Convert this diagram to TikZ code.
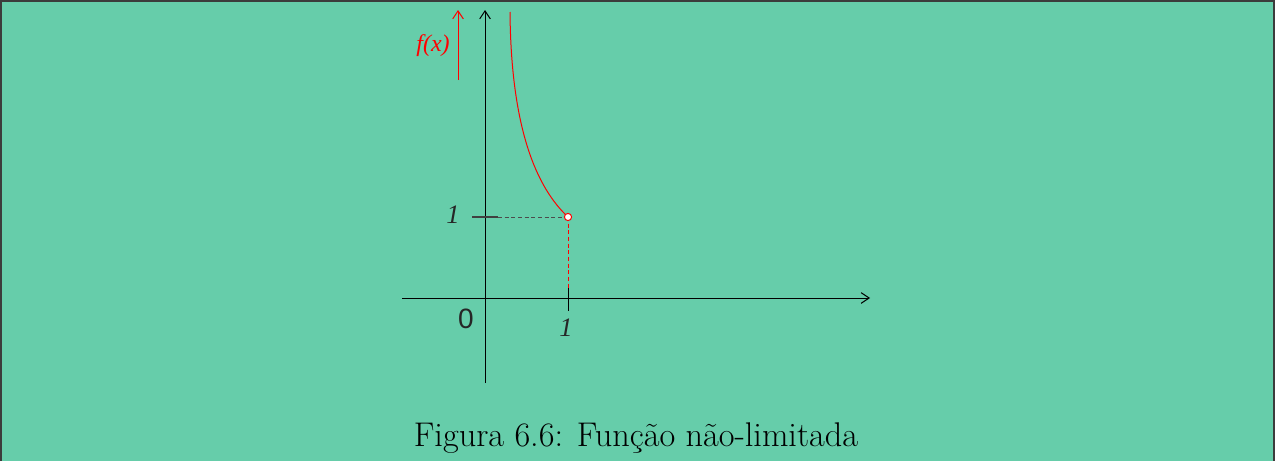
\documentclass[tikz,border=0pt]{standalone}
\usepackage{fontspec}
\usetikzlibrary{arrows.meta}
\newfontfamily\timesfont{Liberation Serif}
\newfontfamily\arialfont{Liberation Sans}
\definecolor{fundo}{RGB}{102,205,170}
\definecolor{moldura}{RGB}{60,60,60}

\tikzset{every picture/.style={line width=0.75pt}}
\tikzset{
  eixo/.style={draw=black, -{Straight Barb[length=6pt,width=8pt]}},
  rotulo/.style={inner sep=0.75pt, font=\timesfont\itshape\fontsize{20}{23}\selectfont, text=black!85},
}

\begin{document}
\begin{tikzpicture}[x=0.75pt,y=0.75pt,yscale=-1,xscale=1]
% fundo e moldura
\fill [fundo] (0,0) rectangle (1275,461);
\useasboundingbox (0,0) rectangle (1275,461);
\draw [moldura, line width=2pt] (1,461) -- (1,1) -- (1274,1) -- (1274,461) ;

% Pontos
\coordinate (xini) at (402,298);
\coordinate (xfim) at (870,298);
\coordinate (yini) at (485,383);
\coordinate (yfim) at (485,10);
\coordinate (P) at (568,217);
\coordinate (tyA) at (472,217);
\coordinate (tyB) at (498,217);
\coordinate (txA) at (568,288);
\coordinate (txB) at (568,311);
\coordinate (fini) at (458,80);
\coordinate (ffim) at (458,10);
\coordinate (topo) at (510,12);

% Eixos
\draw [eixo] (xini) -- (xfim) ;
\draw [eixo] (yini) -- (yfim) ;
% seta de f(x)
\draw [eixo, draw=red] (fini) -- (ffim) ;

% marcas
\draw [black!75, line width=1pt] (tyA) -- (tyB) ;
\draw [black!70, dashed, dash pattern={on 3pt off 2pt}] (tyB) -- (P) ;
\draw [red, dashed, dash pattern={on 3pt off 2pt}] (P) -- (txA) ;
\draw [black] (txA) -- (txB) ;

% curva
\draw [red] (topo) .. controls (511,130) and (537,188) .. (P) ;
\draw [red, fill=white] (P) circle [radius=3.6] ;

% Text Node
\node [rotulo, text=red, font=\timesfont\itshape\fontsize{18}{21}\selectfont] (fx) at (433,46) {f(x)};
% Text Node
\node [rotulo] (um_y) at (453,215) {1};
% Text Node
\node [rotulo] (um_x) at (566,328) {1};
% Text Node
\node [inner sep=0.75pt, font=\arialfont\fontsize{21}{24}\selectfont, text=black!85] (zero) at (466,319) {0};
% Text Node
\node [inner sep=0.75pt, font=\fontsize{25.7}{30}\selectfont, text=black] (legenda) at (636,438) {Figura 6.6: Função não-limitada};

\end{tikzpicture}
\end{document}
